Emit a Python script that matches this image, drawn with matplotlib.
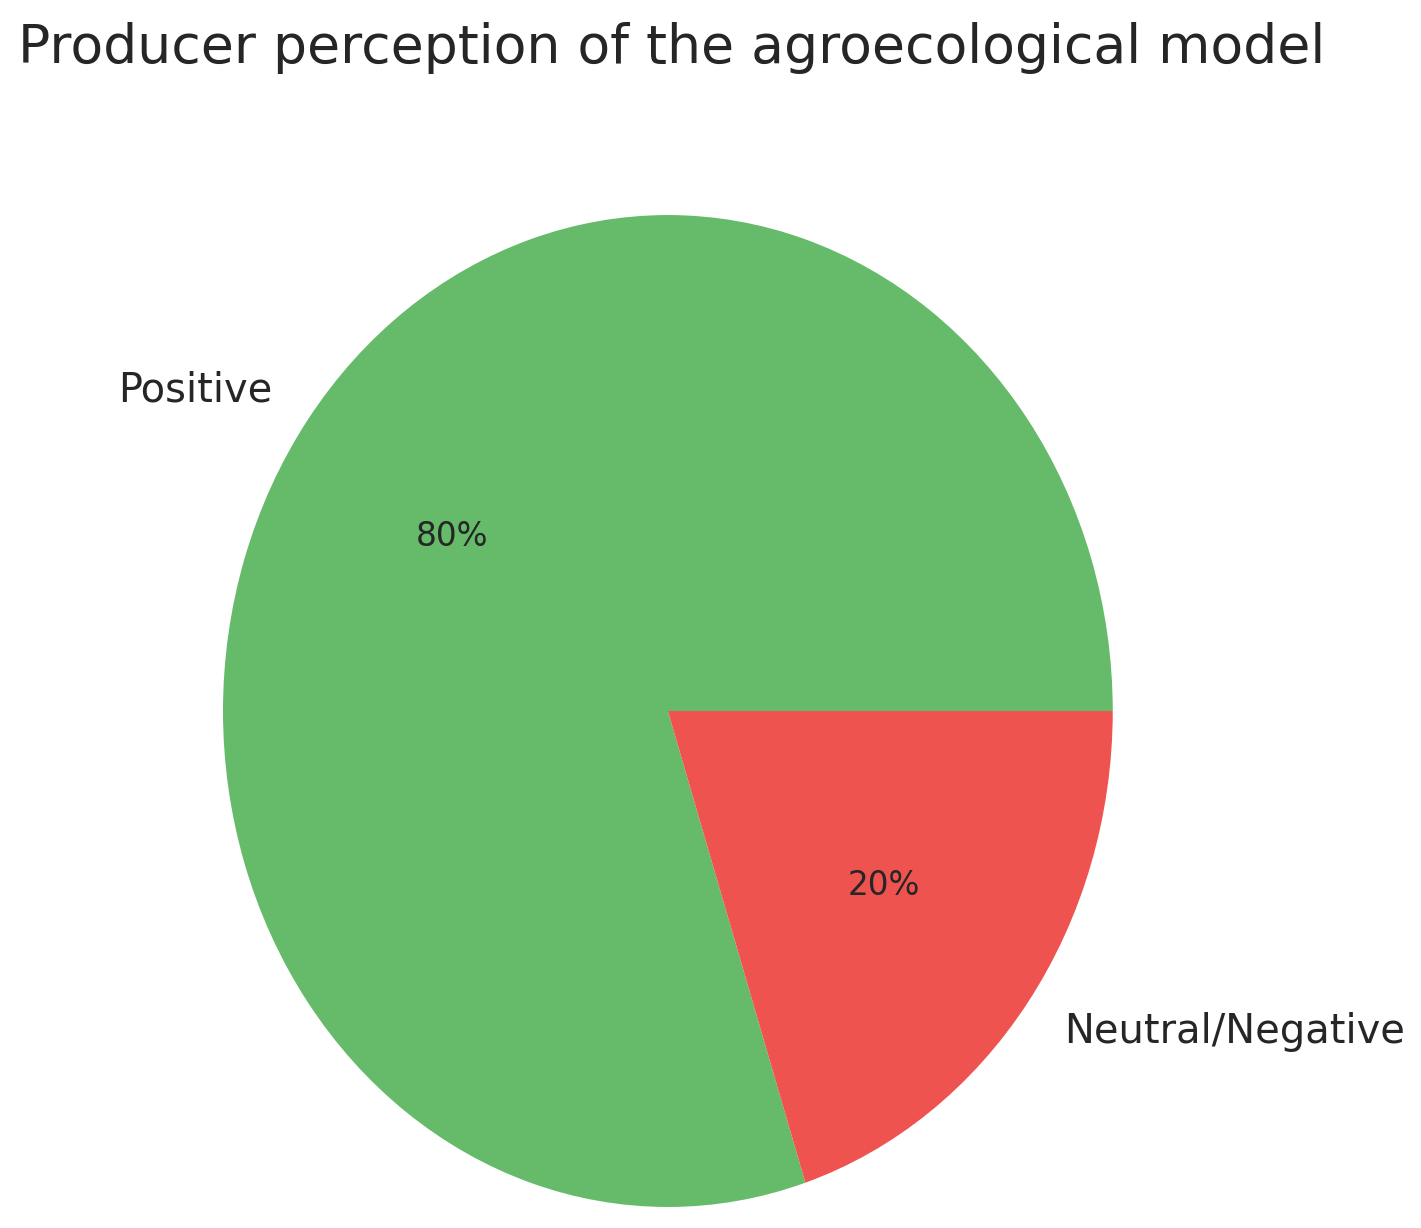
import matplotlib
matplotlib.use("Agg")
import matplotlib.pyplot as plt

# data
labels = ["Positive", "Neutral/Negative"]
shares = [80, 20]
colors = ["#66bb6a", "#ef5350"]

fig = plt.figure(figsize=(14.21, 12.28), dpi=100)
ax = fig.add_axes([0.063, 0.005, 0.814, 0.832])

wedges, texts, autotexts = ax.pie(shares, labels=labels, colors=colors,
                                  autopct="%1.0f%%", startangle=0,
                                  textprops={"color": "#262626", "fontsize": 28.8})
for t in autotexts:
    t.set_fontsize(23.5)

# the reference pie is slightly stretched vertically
ax.set_aspect("auto")
ax.set_xlim(-1.3, 1.3)
ax.set_ylim(-1.03, 1.03)

fig.text(0.013, 0.961, "Producer perception of the agroecological model",
         fontsize=38.6, color="#262626", ha="left", va="center")

fig.savefig("out.png", dpi=100, facecolor="white")
